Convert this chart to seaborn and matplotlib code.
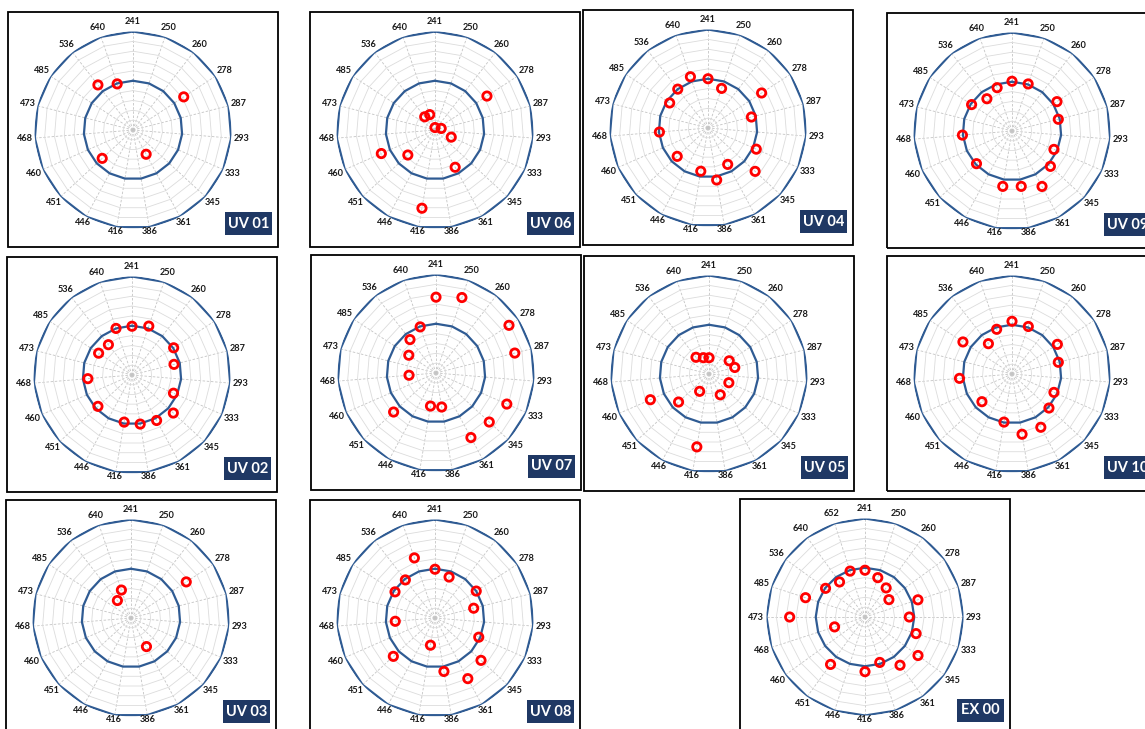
import numpy as np
import matplotlib
matplotlib.use("Agg")
import matplotlib.pyplot as plt
from matplotlib.patches import Rectangle
import seaborn as sns

nan = np.nan

# Wavelength categories (nm) shown on the spokes
uv_cats = [241, 250, 260, 278, 287, 293, 333, 345, 361, 386,
           416, 446, 451, 460, 468, 473, 485, 536, 640]
ex_cats = [241, 250, 260, 278, 287, 293, 333, 345, 361, 386,
           416, 446, 451, 460, 468, 473, 485, 536, 640, 652]

# Relative response per wavelength (1.0 = reference ring)
uv01 = [nan, nan, nan, 1.23, nan, nan, nan, nan, 0.56, nan, nan, nan, 0.85, nan, nan, nan, nan, 1.16, 0.99]
uv06 = [0.05, nan, nan, 1.26, 0.13, nan, 0.36, nan, 0.86, nan, 1.61, nan, 0.75, 1.19, nan, nan, nan, 0.34, 0.33]
uv04 = [1.00, 0.85, nan, 1.30, 0.91, nan, 1.07, 1.30, 0.84, 1.07, 0.89, nan, 0.85, nan, 0.99, nan, 0.93, 1.00, 1.10]
uv09 = [1.01, 1.01, nan, 1.09, 0.97, nan, 0.93, 1.06, 1.28, 1.14, 1.14, nan, 0.98, nan, 1.01, nan, 0.98, 0.83, 0.93]
uv02 = [0.99, 1.05, nan, 1.01, 0.88, nan, 0.92, 1.14, 1.05, 1.01, 0.97, nan, 0.94, nan, 0.90, nan, 0.81, 0.78, 1.00]
uv07 = [1.54, 1.62, nan, 1.77, 1.65, nan, 1.57, 1.47, 1.49, 0.70, 0.68, nan, 1.17, nan, 0.55, nan, 0.66, 0.86, 0.99]
uv05 = [0.33, nan, nan, 0.49, 0.54, nan, 0.44, nan, 0.48, nan, 1.50, 0.40, 0.84, 1.30, nan, nan, nan, 0.43, 0.35]
uv10 = [1.07, 1.02, nan, 1.10, 0.97, nan, 0.93, 1.02, 1.23, 1.24, 0.99, nan, 0.83, nan, 1.07, nan, 1.19, 0.78, 0.96]
uv03 = [nan, nan, nan, 1.34, nan, nan, nan, nan, 0.66, nan, nan, nan, nan, nan, nan, nan, nan, 0.45, 0.60]
uv08 = [0.99, 0.88, nan, 1.00, 0.81, nan, 0.97, 1.27, 1.40, 1.10, 0.56, nan, 1.15, nan, 0.81, nan, 0.97, 0.98, 1.29]
ex00 = [0.95, 0.84, 0.73, 0.60, 1.13, 0.90, 1.09, 1.33, 1.21, 0.97, 1.11, nan, 1.19, nan, 0.65, 1.53, 1.27, 0.99, 0.88, 0.98]

panel_names = ["UV 01", "UV 06", "UV 04", "UV 09",
               "UV 02", "UV 07", "UV 05", "UV 10",
               "UV 03", "UV 08", "EX 00"]
panel_values = [uv01, uv06, uv04, uv09, uv02, uv07, uv05, uv10, uv03, uv08, ex00]
panel_cats = [uv_cats] * 10 + [ex_cats]

# Layout: centre of each radar (pixels from top-left of the page)
centers = [(133, 130), (435, 130), (708, 128), (1012, 131),
           (132, 375), (436, 373), (709, 374), (1012, 374),
           (131, 618), (435, 618), (865, 617)]

W, H = 1145, 729
R_PX = 98.5
RMAX = 2.0
BLUE = "#2f5b93"
NAVY = "#1f3864"

sns.set_theme(style="white")
plt.rcParams["font.family"] = ["Lato", "DejaVu Sans"]

fig = plt.figure(figsize=(W / 100, H / 100), dpi=100)
fig.patch.set_facecolor("white")


def px_rect(x0, y0, x1, y1):
    return (x0 / W, 1 - y1 / H), (x1 - x0) / W, (y1 - y0) / H


for name, vals, cats, (cx, cy) in zip(panel_names, panel_values, panel_cats, centers):
    # panel frame
    xy, w, h = px_rect(cx - 125, cy - 118, cx + 145, cy + 117)
    fig.add_artist(Rectangle(xy, w, h, transform=fig.transFigure,
                             fill=False, ec="black", lw=1.3, zorder=0))

    xy, w, h = px_rect(cx - R_PX, cy - R_PX, cx + R_PX, cy + R_PX)
    ax = fig.add_axes([xy[0], xy[1], w, h], projection="polar")
    ax.set_facecolor("none")
    ax.set_theta_zero_location("N")
    ax.set_theta_direction(-1)

    n = len(cats)
    theta = np.arange(n) * 2 * np.pi / n
    closed = np.append(theta, theta[0])

    # radial spokes
    ax.set_xticks(theta)
    ax.set_xticklabels([])
    ax.set_yticks([])
    ax.xaxis.grid(True, color="#c4c4c4", linestyle=(0, (3, 2)), lw=0.6)
    ax.yaxis.grid(False)
    ax.spines["polar"].set_visible(False)

    # polygonal rings
    for r in np.arange(0.2, RMAX + 0.01, 0.2):
        if abs(r - 1.0) < 1e-6 or abs(r - RMAX) < 1e-6:
            ax.plot(closed, [r] * len(closed), color=BLUE, lw=1.6, zorder=3)
        else:
            ax.plot(closed, [r] * len(closed), color="#dcdcdc", lw=0.6, zorder=1)

    sns.scatterplot(x=theta, y=np.array(vals, dtype=float), ax=ax, marker="o",
                    s=36, color="red", facecolor="none", edgecolor="red",
                    linewidth=2.0, zorder=5, clip_on=False)
    ax.set_xlabel("")
    ax.set_ylabel("")
    ax.set_ylim(0, RMAX)

    # category labels around the rim
    for t, c in zip(theta, cats):
        down = max(0.0, -np.cos(t)) ** 4
        rl = 2.21 - 0.12 * down
        ax.text(t, rl, str(c), ha="center", va="center", fontsize=6.6,
                fontweight="bold", color="#1a1a1a", clip_on=False)

    # name badge
    xy, w, h = px_rect(cx + 92, cy + 82, cx + 139, cy + 105)
    fig.add_artist(Rectangle(xy, w, h, transform=fig.transFigure,
                             fc=NAVY, ec="none", zorder=6))
    fig.text((cx + 115.5) / W, 1 - (cy + 93.5) / H, name, ha="center", va="center",
             color="white", fontsize=10.5, fontweight="bold", zorder=7)

fig.savefig("out.png", dpi=100, facecolor="white")
